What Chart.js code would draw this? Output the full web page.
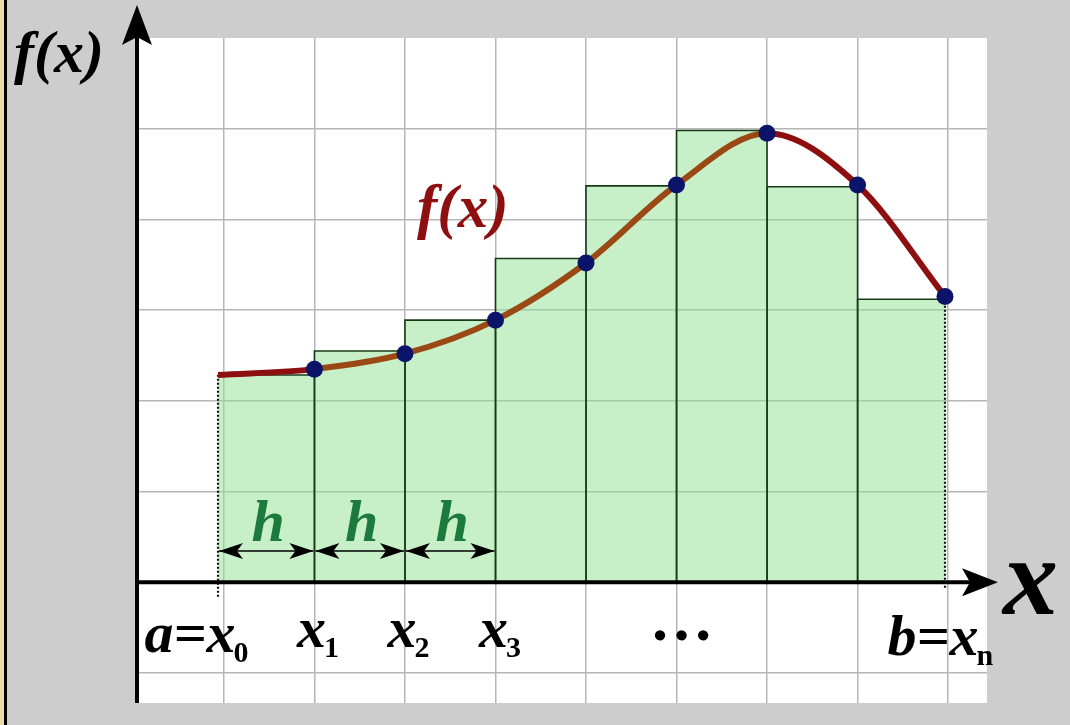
<!DOCTYPE html>
<html>
<head>
<meta charset="utf-8">
<script src="https://cdn.jsdelivr.net/npm/chart.js@4.4.1/dist/chart.umd.min.js"></script>
<style>
  html, body { margin:0; padding:0; background:#cdcdcd; }
  #wrap { width:1070px; height:725px; }
</style>
</head>
<body>
<div id="wrap"><canvas id="chart"></canvas></div>
<script>

/* ========================= */
/* DATA */
/* ========================= */

// nodes x0 .. xn (grid units)
const nodeX = [0.935, 2, 3, 4, 5, 6, 7, 8, 8.966];

// f(x) at each node
const curveY = [2.285, 2.35, 2.52, 2.89, 3.52, 4.38, 4.95, 4.38, 3.15];

// height of each rectangle (between node i and i+1)
const barH = [2.285, 2.55, 2.89, 3.57, 4.37, 4.98, 4.36, 3.12];

// grid
const gridX = [1, 2, 3, 4, 5, 6, 7, 8, 9];
const gridY = [-1, 0, 1, 2, 3, 4, 5];

// labels under the x axis
const tickMain = ["a=x", "x", "x", "x", "b=x"];
const tickSub  = ["0", "1", "2", "3", "n"];
const tickNode = [0, 1, 2, 3, 8];
const dotsNode = 5;     // "..." sits under x5

const hLabel = "h";
const hCount = 3;

/* ========================= */
/* STYLE */
/* ========================= */

const SERIF = '"Liberation Serif", "DejaVu Serif", serif';
const DARK_RED = '#8e0f0f';
const BROWN = '#9a4914';
const DOT = '#0b1468';
const GREEN_FILL = 'rgba(145,225,145,0.5)';
const GREEN_EDGE = '#173b17';
const GREEN_TEXT = '#1c7a3c';
const tickShift = [3, -3, -3, -2, 19];
const tickBase  = [652, 647, 647, 647, 655];

/* ========================= */
/* DATASETS */
/* ========================= */

const barSets = barH.map((h, i) => {
  const pts = [];
  if (i > 0) pts.push({x: nodeX[i], y: 0});
  pts.push({x: nodeX[i], y: h});
  pts.push({x: nodeX[i + 1], y: h});
  if (i < barH.length - 1) pts.push({x: nodeX[i + 1], y: 0});
  return {
    data: pts,
    borderColor: GREEN_EDGE,
    borderWidth: 1.6,
    backgroundColor: GREEN_FILL,
    fill: 'origin',
    pointRadius: 0,
    tension: 0,
    order: 5
  };
});

const last = nodeX.length - 1;

const dottedSets = [
  [{x: nodeX[0], y: -0.16}, {x: nodeX[0], y: curveY[0]}],
  [{x: nodeX[last], y: -0.06}, {x: nodeX[last], y: curveY[last]}]
].map(pts => ({
  data: pts,
  borderColor: '#111',
  borderWidth: 2.2,
  borderDash: [2, 2],
  pointRadius: 0,
  fill: false,
  order: 4
}));

const curveSet = {
  data: nodeX.map((x, i) => ({x: x, y: curveY[i]})),
  borderWidth: 6,
  borderColor: BROWN,
  segment: {
    borderColor: c => (c.p0DataIndex === 0 || c.p0DataIndex >= 6) ? DARK_RED : BROWN
  },
  cubicInterpolationMode: 'monotone',
  pointRadius: c => c.dataIndex === 0 ? 0 : 8.5,
  pointBackgroundColor: DOT,
  pointBorderColor: DOT,
  pointBorderWidth: 0,
  fill: false,
  order: 0
};

/* ========================= */
/* PLUGINS */
/* ========================= */

const backdrop = {
  id: 'backdrop',
  beforeDraw(chart) {
    const {ctx, chartArea: a} = chart;
    ctx.save();
    ctx.fillStyle = '#cdcdcd';
    ctx.fillRect(0, 0, chart.width, chart.height);
    ctx.fillStyle = '#ecdcaa';
    ctx.fillRect(0, 0, 4, chart.height);
    ctx.fillStyle = '#000';
    ctx.fillRect(4, 0, 3, chart.height);
    ctx.fillStyle = '#ffffff';
    ctx.fillRect(a.left, a.top, a.right - a.left, a.bottom - a.top);
    ctx.restore();
  }
};

function drawMath(ctx, main, sub, cx, base, size, subSize) {
  ctx.font = 'italic bold ' + size + 'px ' + SERIF;
  const full = ctx.measureText(main).width;
  const lastW = ctx.measureText(main.slice(-1)).width;
  const left = cx - (full - lastW / 2);
  ctx.textAlign = 'left';
  ctx.textBaseline = 'alphabetic';
  ctx.fillText(main, left, base);
  ctx.font = 'bold ' + subSize + 'px ' + SERIF;
  ctx.fillText(sub, left + full - 2, base + 10);
}

function arrowHead(ctx, x, y, dir, len, half) {
  ctx.beginPath();
  ctx.moveTo(x, y);
  ctx.lineTo(x - dir * len, y - half);
  ctx.lineTo(x - dir * len * 0.75, y);
  ctx.lineTo(x - dir * len, y + half);
  ctx.closePath();
  ctx.fill();
}

const overlay = {
  id: 'overlay',
  afterDatasetsDraw(chart) {
    const {ctx, chartArea: a, scales: {x, y}} = chart;
    const y0 = y.getPixelForValue(0);
    ctx.save();

    // axes
    ctx.strokeStyle = '#000';
    ctx.fillStyle = '#000';
    ctx.lineWidth = 4;
    ctx.beginPath();
    ctx.moveTo(a.left, a.bottom);
    ctx.lineTo(a.left, 30);
    ctx.stroke();
    ctx.beginPath();
    ctx.moveTo(a.left, y0);
    ctx.lineTo(975, y0);
    ctx.stroke();
    // up arrow
    ctx.beginPath();
    ctx.moveTo(a.left, 5);
    ctx.lineTo(a.left - 15, 45);
    ctx.lineTo(a.left, 37);
    ctx.lineTo(a.left + 15, 45);
    ctx.closePath();
    ctx.fill();
    // right arrow
    ctx.beginPath();
    ctx.moveTo(998, y0);
    ctx.lineTo(962, y0 - 14);
    ctx.lineTo(970, y0);
    ctx.lineTo(962, y0 + 14);
    ctx.closePath();
    ctx.fill();

    // h arrows
    ctx.lineWidth = 1.5;
    const ay = 551;
    for (let i = 0; i < hCount; i++) {
      const p0 = x.getPixelForValue(nodeX[i]) + 1;
      const p1 = x.getPixelForValue(nodeX[i + 1]) - 1;
      ctx.beginPath();
      ctx.moveTo(p0, ay);
      ctx.lineTo(p1, ay);
      ctx.stroke();
      arrowHead(ctx, p0, ay, -1, 24, 8);
      arrowHead(ctx, p1, ay, 1, 24, 8);
      ctx.fillStyle = GREEN_TEXT;
      ctx.font = 'italic bold 60px ' + SERIF;
      ctx.textAlign = 'center';
      ctx.textBaseline = 'alphabetic';
      ctx.fillText(hLabel, (p0 + p1) / 2 + 2, 541);
      ctx.fillStyle = '#000';
    }

    // tick labels
    ctx.fillStyle = '#000';
    tickMain.forEach((m, i) => {
      const cx = x.getPixelForValue(nodeX[tickNode[i]]) + tickShift[i];
      drawMath(ctx, m, tickSub[i], cx, tickBase[i], 58, 30);
    });
    ctx.font = 'bold 64px ' + SERIF;
    ctx.textAlign = 'center';
    ctx.fillText('\u2026', x.getPixelForValue(nodeX[dotsNode]) + 5, 640);

    // axis names
    ctx.textAlign = 'left';
    ctx.font = 'italic bold 60px ' + SERIF;
    ctx.fillText('f(x)', 14, 72);
    ctx.font = 'italic bold 110px ' + SERIF;
    ctx.fillText('x', 1003, 614);

    // curve name
    ctx.fillStyle = DARK_RED;
    ctx.font = 'italic bold 61px ' + SERIF;
    ctx.fillText('f(x)', 417, 227);

    ctx.restore();
  }
};

/* ========================= */
/* CHART */
/* ========================= */

new Chart(document.getElementById('chart'), {
  type: 'line',
  data: { datasets: [curveSet, ...dottedSets, ...barSets] },
  options: {
    responsive: true,
    maintainAspectRatio: false,
    animation: false,
    layout: { padding: { left: 137, top: 38, right: 83, bottom: 22 } },
    plugins: { legend: { display: false }, tooltip: { enabled: false } },
    scales: {
      x: {
        type: 'linear',
        min: 0.04,
        max: 9.43,
        afterBuildTicks: s => { s.ticks = gridX.map(v => ({value: v})); },
        grid: { color: '#b6b6b6', lineWidth: 1.5, drawTicks: false },
        border: { display: false },
        ticks: { display: false }
      },
      y: {
        type: 'linear',
        min: -1.33,
        max: 6,
        afterBuildTicks: s => { s.ticks = gridY.map(v => ({value: v})); },
        grid: { color: '#b6b6b6', lineWidth: 1.5, drawTicks: false },
        border: { display: false },
        ticks: { display: false }
      }
    }
  },
  plugins: [backdrop, overlay]
});

</script>
</body>
</html>
